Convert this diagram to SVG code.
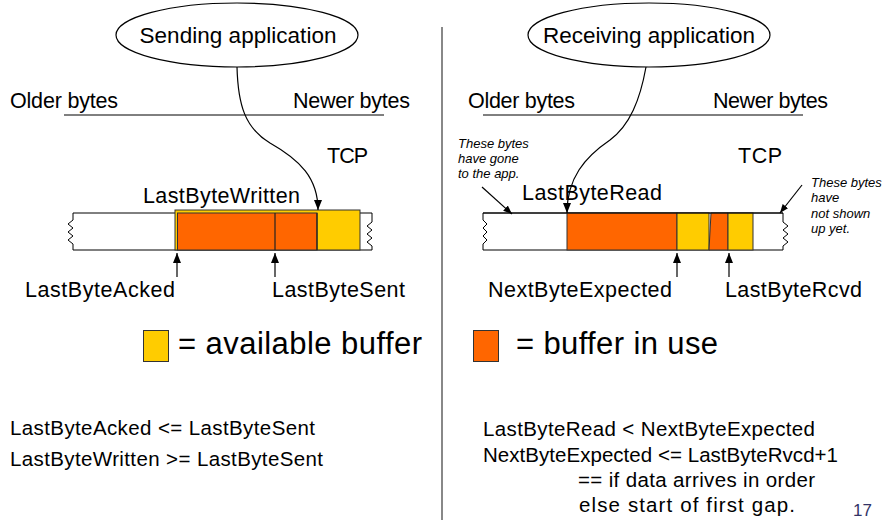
<svg xmlns="http://www.w3.org/2000/svg" width="885" height="520" viewBox="0 0 885 520">
<defs>
<marker id="ah" viewBox="0 0 10 8" refX="10" refY="4" markerWidth="10" markerHeight="8" markerUnits="userSpaceOnUse" orient="auto">
<path d="M0,0 L10,4 L0,8 z" fill="#000"/>
</marker>
<marker id="ahs" viewBox="0 0 10 8" refX="10" refY="4" markerWidth="9" markerHeight="7" markerUnits="userSpaceOnUse" orient="auto">
<path d="M0,0 L10,4 L0,8 z" fill="#000"/>
</marker>
</defs>
<style>
text{font-family:"Liberation Sans",Arial,sans-serif;fill:#000}
.lbl{font-size:21.5px}
.app{font-size:22.5px;text-anchor:middle}
.leg{font-size:31px}
.eq{font-size:20.5px}
.it{font-size:13px;font-style:italic}
.ell{fill:#fff;stroke:#000;stroke-width:1.2}
.wire{fill:none;stroke:#000;stroke-width:1.2}
.buf{fill:#fff;stroke:#000;stroke-width:1}
.org{fill:#FF6600;stroke:#333;stroke-width:1}
.yel{fill:#FFCC00;stroke:#333;stroke-width:1}
.sep{stroke:#888;stroke-width:2}
</style>
<rect width="885" height="520" fill="#fff"/>
<line class="sep" x1="442" y1="27" x2="442" y2="520"/>

<!-- LEFT PANEL -->
<g id="sending-app">
<ellipse class="ell" cx="237" cy="35" rx="121" ry="32"/>
<text class="app" x="238" y="43" textLength="197">Sending application</text>
</g>
<g id="left-axis">
<text class="lbl" x="10" y="108" textLength="108">Older bytes</text>
<text class="lbl" x="293" y="108" textLength="117">Newer bytes</text>
<line x1="64" y1="115" x2="384" y2="115" stroke="#000" stroke-width="1"/>
<text class="lbl" x="327" y="163" textLength="41">TCP</text>
</g>
<g id="send-buffer">
<path class="buf" d="M73,213 H372 V222 L367,226 L372,230 L367,234 L372,238 L367,242 L372,246 V250 H73 V244 L68,240 L73,236 L68,232 L73,228 L68,224 L73,220 Z"/>
<rect class="yel" x="175" y="210" width="185" height="40"/>
<rect class="org" x="177.5" y="213" width="139.5" height="37"/>
<line x1="275" y1="213" x2="275" y2="250" stroke="#222" stroke-width="1.2"/>
<line x1="317" y1="213" x2="317" y2="250" stroke="#222" stroke-width="1.2"/>
<text class="lbl" x="143" y="203" textLength="157">LastByteWritten</text>
<text class="lbl" x="25" y="297" textLength="150">LastByteAcked</text>
<text class="lbl" x="272" y="297" textLength="133">LastByteSent</text>
</g>
<g id="legend-available">
<rect class="yel" x="143.5" y="330.5" width="25" height="31"/>
<text class="leg" x="178" y="354" textLength="244">= available buffer</text>
</g>
<g id="send-eqs">
<text class="eq" x="10" y="435" textLength="305">LastByteAcked &lt;= LastByteSent</text>
<text class="eq" x="10" y="466" textLength="313">LastByteWritten &gt;= LastByteSent</text>
</g>

<!-- RIGHT PANEL -->
<g id="receiving-app">
<ellipse class="ell" cx="649" cy="35" rx="121" ry="32"/>
<text class="app" x="649" y="43" textLength="212">Receiving application</text>
</g>
<g id="right-axis">
<text class="lbl" x="468" y="108" textLength="107">Older bytes</text>
<text class="lbl" x="713" y="108" textLength="115">Newer bytes</text>
<line x1="483" y1="115" x2="803" y2="115" stroke="#000" stroke-width="1"/>
<text class="lbl" x="738" y="163" textLength="44">TCP</text>
</g>
<g id="recv-buffer">
<path class="buf" d="M483,213 H783 V222 L788,226 L783,230 L788,234 L783,238 L788,242 L783,246 V250 H483 V244 L487,240 L483,236 L487,232 L483,228 L487,224 L483,220 Z"/>
<rect class="org" x="567" y="213" width="110" height="37"/>
<rect class="yel" x="677" y="213" width="32" height="37"/>
<path class="org" d="M711,213 H728 V250 H709 Z"/>
<rect class="yel" x="728" y="213" width="25" height="37"/>
<line x1="483" y1="213" x2="783" y2="213" stroke="#000" stroke-width="1"/>
<text class="lbl" x="522" y="200" textLength="140">LastByteRead</text>
<text class="lbl" x="488" y="297" textLength="184">NextByteExpected</text>
<text class="lbl" x="725" y="297" textLength="137">LastByteRcvd</text>
</g>
<g id="note-gone">
<text class="it" x="458" y="148">These bytes</text>
<text class="it" x="458" y="163">have gone</text>
<text class="it" x="458" y="177.5">to the app.</text>
</g>
<g id="note-notyet">
<text class="it" x="811" y="187">These bytes</text>
<text class="it" x="811" y="202">have</text>
<text class="it" x="811" y="218">not shown</text>
<text class="it" x="811" y="233">up yet.</text>
</g>
<g id="legend-inuse">
<rect class="org" x="473.5" y="330.5" width="25" height="31"/>
<text class="leg" x="516" y="354" textLength="202">= buffer in use</text>
</g>
<g id="recv-eqs">
<text class="eq" x="483" y="436" textLength="332">LastByteRead &lt; NextByteExpected</text>
<text class="eq" x="483" y="462" textLength="355">NextByteExpected &lt;= LastByteRvcd+1</text>
<text class="eq" x="578" y="487" textLength="237">== if data arrives in order</text>
<text class="eq" x="579" y="512" textLength="216">else start of first gap.</text>
</g>
<text x="853" y="516" font-size="17" style="fill:#333366" textLength="19">17</text>

<!-- CONNECTORS -->
<g id="connectors">
<path class="wire" d="M237,67 C238,105 245,128 270,143 C300,160 318,178 318,210" marker-end="url(#ah)"/>
<path class="wire" d="M646,67 C640,100 630,125 610,140 C585,157 567,178 567,213" marker-end="url(#ah)"/>
<line class="wire" x1="177" y1="277" x2="177" y2="253" marker-end="url(#ah)"/>
<line class="wire" x1="275" y1="277" x2="275" y2="253" marker-end="url(#ah)"/>
<line class="wire" x1="677" y1="277" x2="677" y2="253" marker-end="url(#ah)"/>
<line class="wire" x1="729" y1="277" x2="729" y2="253" marker-end="url(#ah)"/>
<line class="wire" x1="482" y1="187" x2="512" y2="214" marker-end="url(#ahs)"/>
<line class="wire" x1="802" y1="185" x2="780" y2="213" marker-end="url(#ahs)"/>
</g>
</svg>
